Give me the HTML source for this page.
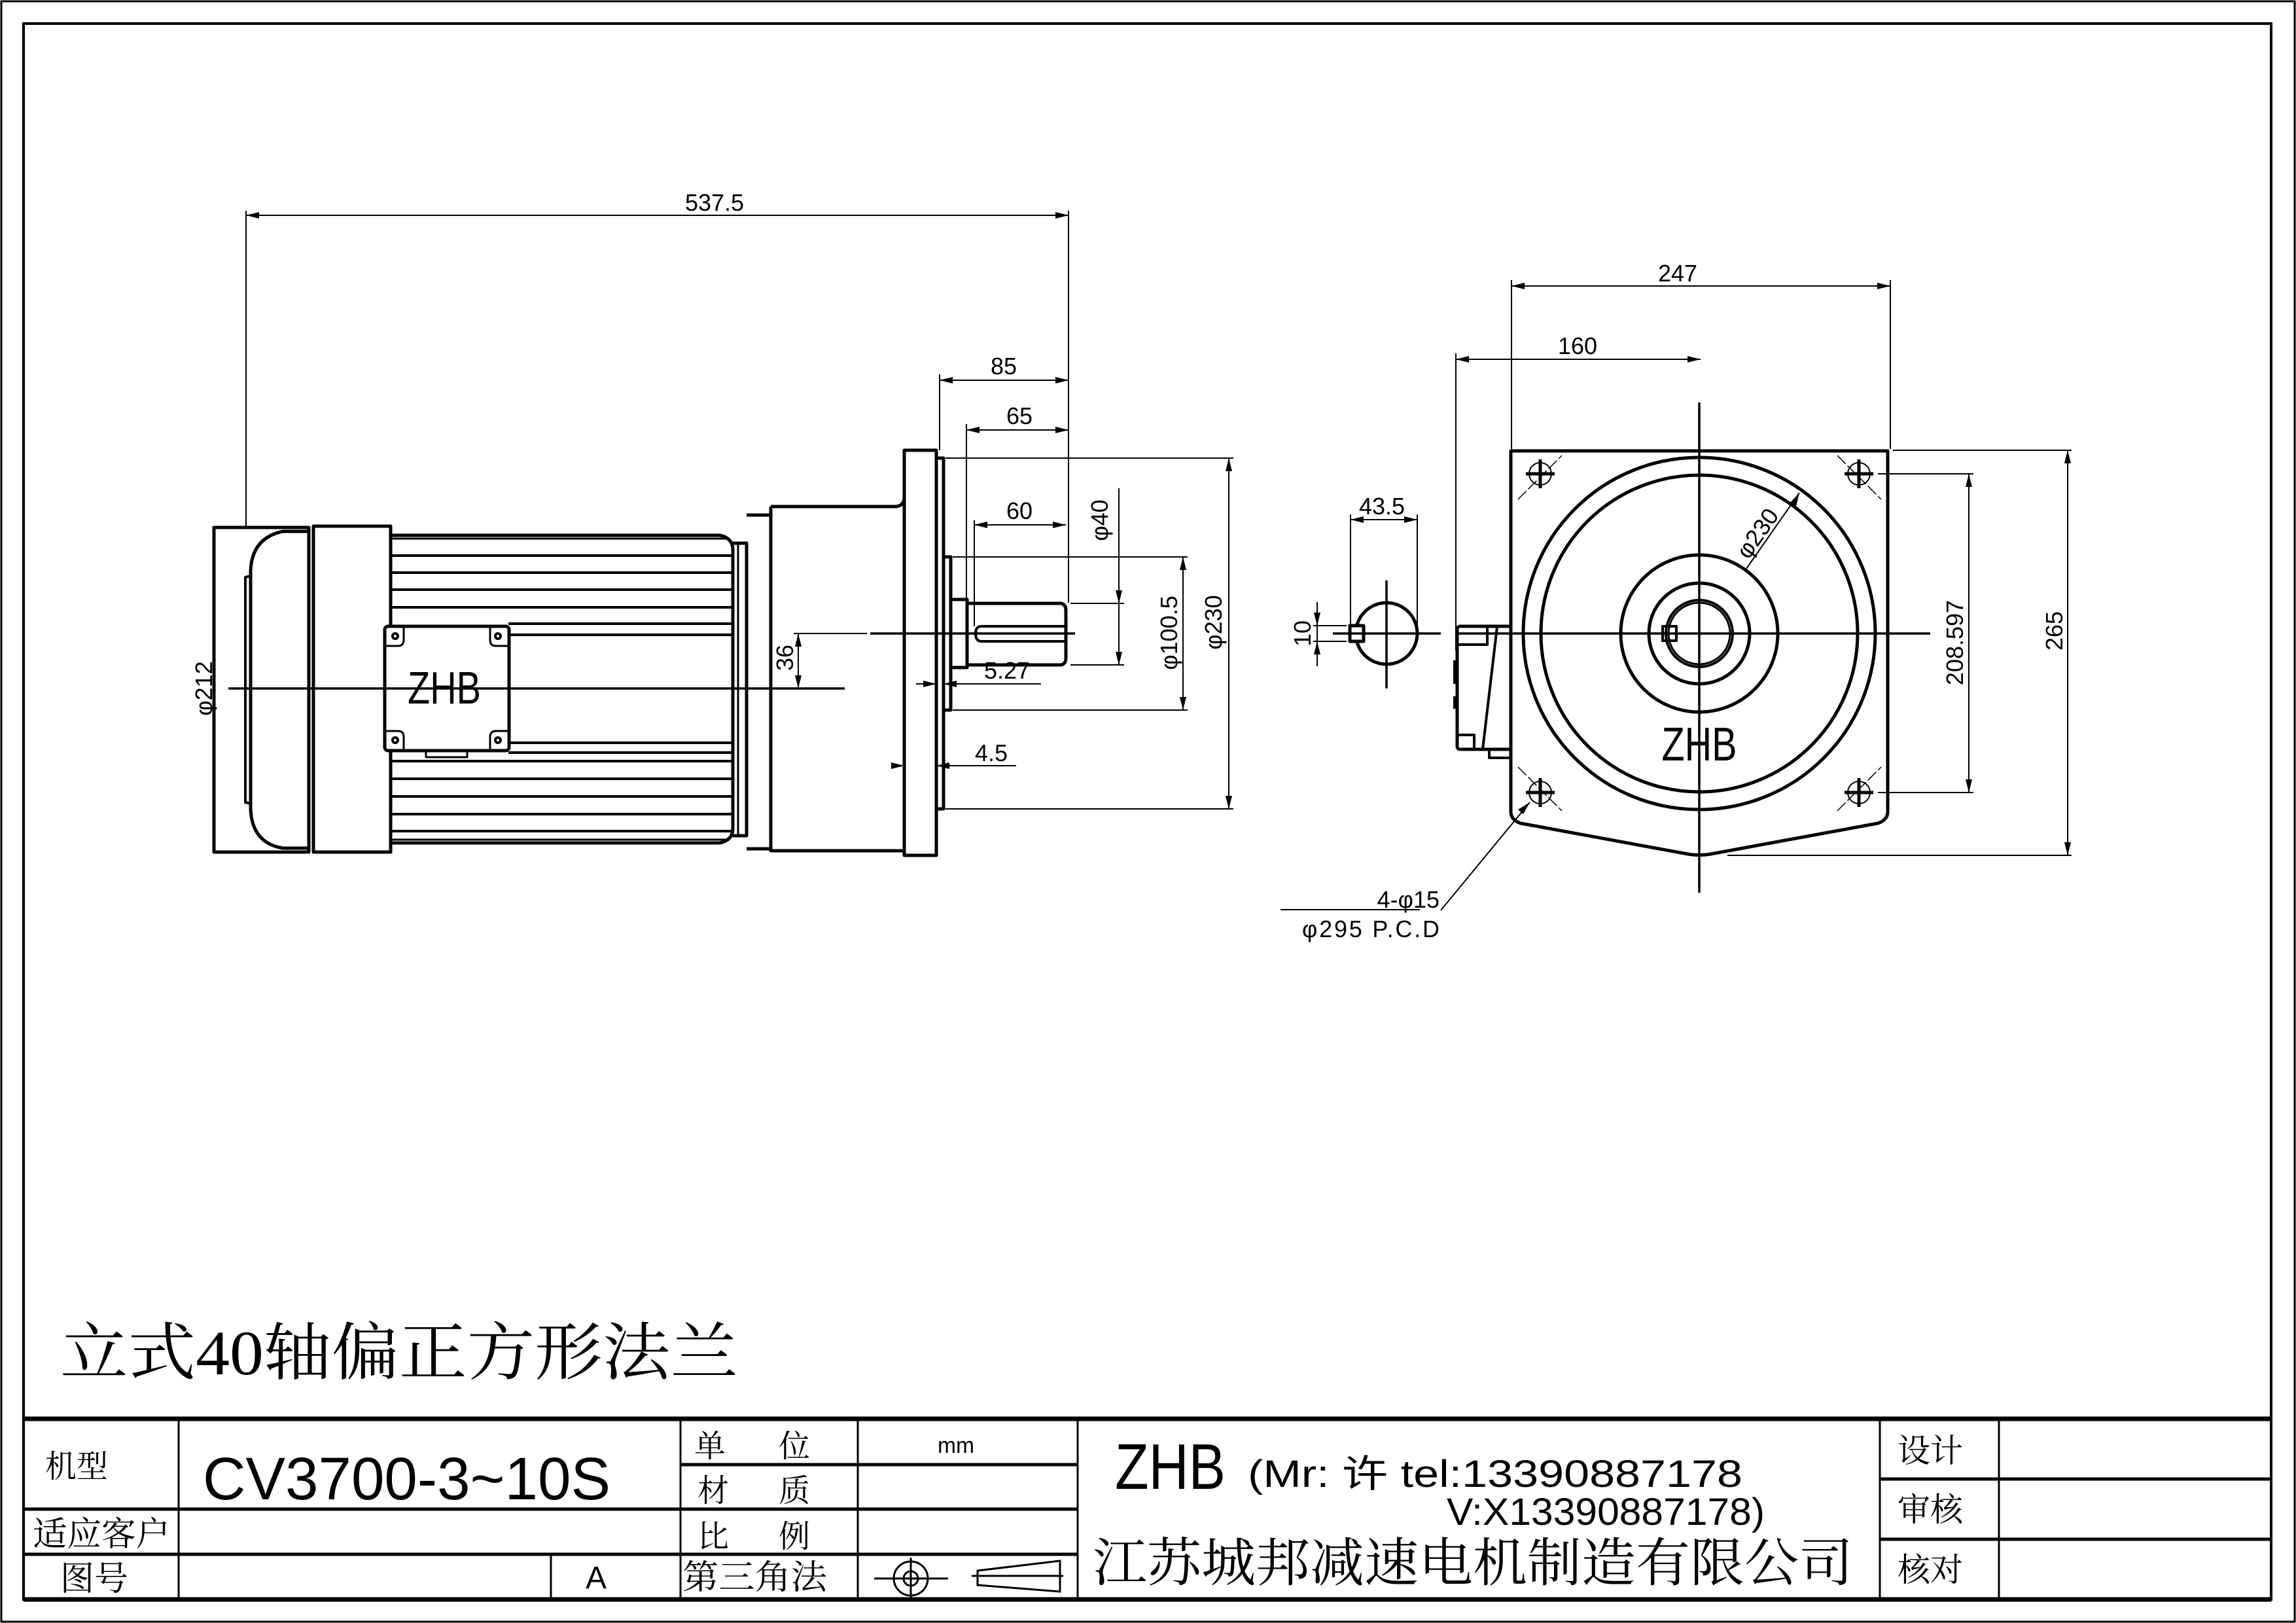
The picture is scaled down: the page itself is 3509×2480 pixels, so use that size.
<!DOCTYPE html>
<html><head><meta charset="utf-8"><style>
html,body{margin:0;padding:0;background:#fff;}
svg{display:block;}
text{font-family:"Liberation Sans",sans-serif;fill:#000;}
.cn{font-family:"Liberation Serif","Noto Serif CJK SC",serif;}
</style></head><body>
<svg width="3509" height="2480" viewBox="0 0 3509 2480" xmlns="http://www.w3.org/2000/svg">
<rect x="0" y="0" width="3509" height="2480" fill="#fff"/>
<!-- page borders -->
<rect x="2" y="2" width="3505" height="2476" fill="none" stroke="#000" stroke-width="3"/>
<rect x="36" y="36" width="3435" height="2408" fill="none" stroke="#000" stroke-width="4"/>

<g fill="none" stroke="#000" stroke-width="5" stroke-linejoin="round">
<!-- ===== LEFT VIEW ===== -->
<!-- fan cover -->
<path d="M327,806 L472,806 L472,1302 L327,1302 Z"/>
<path d="M472,812 L432,812 Q385,822 383,872 L383,1236 Q385,1288 432,1296 L472,1296"/>
<path d="M383,880 L375,882 L375,1226 L383,1228" stroke-width="4"/>
<path d="M479,804 L597,804 L597,1302 L479,1302 Z"/>
<!-- fin body -->
<path d="M597,818 L1100,818 Q1120,822 1120,840 L1120,1266 Q1120,1284 1100,1288 L597,1288"/>
<line x1="597" y1="823" x2="1110" y2="823" stroke-width="3"/>
<line x1="597" y1="1283" x2="1110" y2="1283" stroke-width="3"/>
<g stroke-width="4">
<line x1="597" y1="849" x2="1119" y2="849"/><line x1="597" y1="875" x2="1119" y2="875"/>
<line x1="597" y1="901" x2="1119" y2="901"/><line x1="597" y1="928" x2="1119" y2="928"/>
<line x1="777" y1="953" x2="1119" y2="953"/><line x1="777" y1="970" x2="1119" y2="970"/>
<line x1="777" y1="1135" x2="1119" y2="1135"/><line x1="777" y1="1150" x2="1119" y2="1150"/>
<line x1="597" y1="1163" x2="1119" y2="1163"/><line x1="597" y1="1190" x2="1119" y2="1190"/>
<line x1="597" y1="1217" x2="1119" y2="1217"/><line x1="597" y1="1244" x2="1119" y2="1244"/>
<line x1="597" y1="1270" x2="1119" y2="1270"/>
</g>
<!-- terminal box -->
<rect x="588" y="957" width="190" height="190" rx="5" fill="#fff"/>
<path d="M588,987 L608,987 Q617,987 617,978 L617,957 M778,987 L758,987 Q749,987 749,978 L749,957 M588,1117 L608,1117 Q617,1117 617,1126 L617,1147 M778,1117 L758,1117 Q749,1117 749,1126 L749,1147" stroke-width="3"/>
<path d="M651,1147 L651,1157 L714,1157 L714,1147" stroke-width="3"/>
<!-- rings & gearbox -->
<path d="M1120,830 L1141,830 L1141,1277 L1120,1277"/>
<line x1="1128" y1="830" x2="1128" y2="1277" stroke-width="3"/>
<path d="M1141,787 L1178,787 L1178,1297 L1141,1297"/>
<path d="M1178,774 L1370,774 Q1382,772 1382,760 M1178,774 L1178,1300 L1382,1300"/>
<path d="M1382,688 L1431,688 L1431,1307 L1382,1307 Z"/>
<path d="M1431,700 L1442,700 L1442,1236 L1431,1236"/>
<path d="M1442,851 L1453,851 L1453,1085 L1442,1085"/>
<path d="M1453,916 L1478,916 L1478,1020 L1453,1020"/>
<path d="M1478,922 L1622,922 Q1629,924 1629,932 L1629,1006 Q1629,1014 1622,1016 L1478,1016"/>
<path d="M1629,957 L1500,957 Q1491,957 1491,968 Q1491,980 1500,980 L1629,980" stroke-width="4"/>

<!-- ===== RIGHT VIEW ===== -->
<path d="M2309,689 L2885,689 L2885,1240 Q2885,1253 2870,1258 L2620,1304 Q2597,1309 2574,1304 L2324,1258 Q2309,1253 2309,1240 Z"/>
<circle cx="2597" cy="968" r="269"/>
<circle cx="2597" cy="968" r="242"/>
<circle cx="2597" cy="968" r="120"/>
<circle cx="2597" cy="968" r="77"/>
<circle cx="2597" cy="968" r="51" stroke-width="4"/>
<circle cx="2597" cy="968" r="47" stroke-width="3"/>
<rect x="2541" y="957" width="21" height="22" stroke-width="4"/>
<!-- terminal box side -->
<path d="M2310,957 L2232,957 Q2227,957 2227,962 L2227,1140 Q2227,1145 2232,1145 L2310,1145"/>
<path d="M2228,985 L2273,985 L2273,958 M2228,1123 L2253,1123 L2253,1145 M2288,958 L2266,1145 M2276,1145 L2276,1158 L2310,1158" stroke-width="4"/>
<path d="M2224,1009 L2224,1045 M2224,1064 L2224,1083" stroke-width="6"/>
<!-- shaft end view -->
<circle cx="2119" cy="968" r="47"/>
<rect x="2063" y="956" width="21" height="24" fill="#fff"/>
</g>

<!-- holes -->
<g stroke="#000" fill="none">
<g id="h1">
<circle cx="2354" cy="724" r="17" stroke-width="2"/>
<path d="M2332,724 L2376,724 M2354,702 L2354,746" stroke-width="5"/>
</g>
<circle cx="2841" cy="724" r="17" stroke-width="2"/>
<path d="M2819,724 L2863,724 M2841,702 L2841,746" stroke-width="5"/>
<circle cx="2354" cy="1211" r="17" stroke-width="2"/>
<path d="M2332,1211 L2376,1211 M2354,1189 L2354,1233" stroke-width="5"/>
<circle cx="2841" cy="1211" r="17" stroke-width="2"/>
<path d="M2819,1211 L2863,1211 M2841,1189 L2841,1233" stroke-width="5"/>
<path d="M2320,763 L2387,696 M2808,696 L2875,763 M2320,1172 L2387,1239 M2808,1239 L2875,1172" stroke-width="1.5" stroke-dasharray="18 4"/>
</g>

<!-- screws on terminal box -->
<g fill="#000">
<circle cx="604" cy="972" r="6"/><circle cx="761" cy="972" r="6"/>
<circle cx="604" cy="1131" r="6"/><circle cx="761" cy="1131" r="6"/>
</g>
<g fill="#fff"><circle cx="604" cy="972" r="2"/><circle cx="761" cy="972" r="2"/><circle cx="604" cy="1131" r="2"/><circle cx="761" cy="1131" r="2"/></g>

<!-- centerlines -->
<g stroke="#000" stroke-width="3.5" fill="none">
<line x1="349" y1="1052" x2="1291" y2="1052"/>
<line x1="1330" y1="968" x2="1643" y2="968"/>
<line x1="2037" y1="968" x2="2202" y2="968"/>
<line x1="2119" y1="887" x2="2119" y2="1052"/>
<line x1="2227" y1="968" x2="2950" y2="968"/>
<line x1="2597" y1="615" x2="2597" y2="1364"/>
</g>

<!-- dimension lines -->
<g stroke="#000" stroke-width="2" fill="none">
<!-- 537.5 -->
<line x1="376" y1="322" x2="376" y2="806"/><line x1="1633" y1="322" x2="1633" y2="921"/>
<line x1="376" y1="329" x2="1633" y2="329"/>
<!-- 85 -->
<line x1="1436" y1="572" x2="1436" y2="688"/><line x1="1436" y1="581" x2="1633" y2="581"/>
<!-- 65 -->
<line x1="1477" y1="648" x2="1477" y2="916"/><line x1="1477" y1="657" x2="1633" y2="657"/>
<!-- 60 -->
<line x1="1489" y1="795" x2="1489" y2="957"/><line x1="1489" y1="802" x2="1629" y2="802"/>
<!-- phi40 -->
<line x1="1636" y1="922" x2="1718" y2="922"/><line x1="1636" y1="1016" x2="1718" y2="1016"/>
<line x1="1710" y1="746" x2="1710" y2="1016"/>
<!-- phi100.5 -->
<line x1="1456" y1="851" x2="1815" y2="851"/><line x1="1456" y1="1085" x2="1815" y2="1085"/>
<line x1="1808" y1="851" x2="1808" y2="1085"/>
<!-- phi230 -->
<line x1="1445" y1="700" x2="1885" y2="700"/><line x1="1445" y1="1236" x2="1885" y2="1236"/>
<line x1="1878" y1="700" x2="1878" y2="1236"/>
<!-- 36 -->
<line x1="1213" y1="968" x2="1325" y2="968"/><line x1="1220" y1="968" x2="1220" y2="1052"/>
<!-- 5.27 -->
<line x1="1400" y1="1045" x2="1431" y2="1045"/><line x1="1442" y1="1045" x2="1591" y2="1045"/>
<!-- 4.5 -->
<line x1="1362" y1="1170" x2="1382" y2="1170"/><line x1="1431" y1="1170" x2="1553" y2="1170"/>
<!-- 43.5 -->
<line x1="2064" y1="786" x2="2064" y2="956"/><line x1="2166" y1="786" x2="2166" y2="968"/>
<line x1="2064" y1="794" x2="2166" y2="794"/>
<!-- 10 -->
<line x1="2007" y1="956" x2="2058" y2="956"/><line x1="2007" y1="980" x2="2058" y2="980"/>
<line x1="2013" y1="920" x2="2013" y2="1018"/>
<!-- 247 -->
<line x1="2310" y1="428" x2="2310" y2="686"/><line x1="2889" y1="428" x2="2889" y2="686"/>
<line x1="2310" y1="437" x2="2889" y2="437"/>
<!-- 160 -->
<line x1="2225" y1="540" x2="2225" y2="994"/><line x1="2225" y1="549" x2="2599" y2="549"/>
<!-- 208.597 -->
<line x1="2870" y1="724" x2="3016" y2="724"/><line x1="2870" y1="1211" x2="3016" y2="1211"/>
<line x1="3009" y1="724" x2="3009" y2="1211"/>
<!-- 265 -->
<line x1="2893" y1="688" x2="3166" y2="688"/><line x1="2640" y1="1307" x2="3166" y2="1307"/>
<line x1="3160" y1="688" x2="3160" y2="1307"/>
<!-- phi230 leader -->
<line x1="2669" y1="869" x2="2750" y2="753"/>
<!-- 4-phi15 leader -->
<line x1="2338" y1="1226" x2="2202" y2="1391"/>
<line x1="1957" y1="1390" x2="2170" y2="1390"/>
</g>

<!-- arrowheads -->
<g fill="#000">
<polygon points="376,329 396,324 396,334"/><polygon points="1633,329 1613,324 1613,334"/>
<polygon points="1436,581 1456,576 1456,586"/><polygon points="1633,581 1613,576 1613,586"/>
<polygon points="1477,657 1497,652 1497,662"/><polygon points="1633,657 1613,652 1613,662"/>
<polygon points="1489,802 1509,797 1509,807"/><polygon points="1629,802 1609,797 1609,807"/>
<polygon points="1710,922 1705,902 1715,902"/><polygon points="1710,1016 1705,996 1715,996"/>
<polygon points="1808,851 1803,871 1813,871"/><polygon points="1808,1085 1803,1065 1813,1065"/>
<polygon points="1878,700 1873,720 1883,720"/><polygon points="1878,1236 1873,1216 1883,1216"/>
<polygon points="1220,968 1215,988 1225,988"/><polygon points="1220,1052 1215,1032 1225,1032"/>
<polygon points="1431,1045 1411,1040 1411,1050"/><polygon points="1442,1045 1462,1040 1462,1050"/>
<polygon points="1382,1170 1362,1165 1362,1175"/><polygon points="1431,1170 1451,1165 1451,1175"/>
<polygon points="2064,794 2084,789 2084,799"/><polygon points="2166,794 2146,789 2146,799"/>
<polygon points="2013,956 2008,936 2018,936"/><polygon points="2013,980 2008,1000 2018,1000"/>
<polygon points="2310,437 2330,432 2330,442"/><polygon points="2889,437 2869,432 2869,442"/>
<polygon points="2225,549 2245,544 2245,554"/><polygon points="2599,549 2579,544 2579,554"/>
<polygon points="3009,724 3004,744 3014,744"/><polygon points="3009,1211 3004,1191 3014,1191"/>
<polygon points="3160,688 3155,708 3165,708"/><polygon points="3160,1307 3155,1287 3165,1287"/>
<polygon points="2750,753 2736,768 2745,774"/>
<polygon points="2338,1226 2320,1237 2328,1244"/>
</g>

<!-- dimension text -->
<g font-size="36">
<text x="1092" y="322" text-anchor="middle">537.5</text>
<text x="1534" y="572" text-anchor="middle">85</text>
<text x="1558" y="648" text-anchor="middle">65</text>
<text x="1558" y="793" text-anchor="middle">60</text>
<text x="1539" y="1037" text-anchor="middle">5.27</text>
<text x="1515" y="1163" text-anchor="middle">4.5</text>
<text x="2112" y="786" text-anchor="middle">43.5</text>
<text x="2564" y="430" text-anchor="middle">247</text>
<text x="2411" y="541" text-anchor="middle">160</text>
<text transform="translate(1693,795) rotate(-90)" text-anchor="middle">φ40</text>
<text transform="translate(1799,967) rotate(-90)" text-anchor="middle">φ100.5</text>
<text transform="translate(1867,951) rotate(-90)" text-anchor="middle">φ230</text>
<text transform="translate(1212,1005) rotate(-90)" text-anchor="middle">36</text>
<text transform="translate(324,1052) rotate(-90)" text-anchor="middle">φ212</text>
<text transform="translate(2003,968) rotate(-90)" text-anchor="middle">10</text>
<text transform="translate(3000,982) rotate(-90)" text-anchor="middle">208.597</text>
<text transform="translate(3152,964) rotate(-90)" text-anchor="middle">265</text>
<text transform="translate(2696,822) rotate(-55)" text-anchor="middle">φ230</text>
<text x="2200" y="1387" text-anchor="end">4-φ15</text>
<text x="2200" y="1432" text-anchor="end" textLength="210" lengthAdjust="spacing">φ295 P.C.D</text>
</g>
<text x="623" y="1075" font-size="70" textLength="112" lengthAdjust="spacingAndGlyphs">ZHB</text>
<text x="2597" y="1162" font-size="72" text-anchor="middle" textLength="115" lengthAdjust="spacingAndGlyphs">ZHB</text>

<!-- drawing title -->
<text class="cn" x="92" y="2100" font-size="96" textLength="1036" lengthAdjust="spacingAndGlyphs">立式40轴偏正方形法兰</text>

<!-- title block -->
<g stroke="#000" fill="none">
<line x1="36" y1="2168" x2="3471" y2="2168" stroke-width="7"/>
<line x1="36" y1="2444" x2="3471" y2="2444" stroke-width="7"/>
<line x1="36" y1="2306" x2="1647" y2="2306" stroke-width="5"/>
<line x1="36" y1="2375" x2="1647" y2="2375" stroke-width="5"/>
<line x1="1040" y1="2238" x2="1647" y2="2238" stroke-width="5"/>
<line x1="2873" y1="2260" x2="3471" y2="2260" stroke-width="5"/>
<line x1="2873" y1="2352" x2="3471" y2="2352" stroke-width="5"/>
<g stroke-width="3">
<line x1="273" y1="2168" x2="273" y2="2444"/>
<line x1="842" y1="2375" x2="842" y2="2444"/>
<line x1="1040" y1="2168" x2="1040" y2="2444"/>
<line x1="1311" y1="2168" x2="1311" y2="2444"/>
<line x1="1647" y1="2168" x2="1647" y2="2444"/>
<line x1="2873" y1="2168" x2="2873" y2="2444"/>
<line x1="3055" y1="2168" x2="3055" y2="2444"/>
</g>
<!-- third angle symbol -->
<circle cx="1392" cy="2412" r="26" stroke-width="3"/>
<circle cx="1392" cy="2412" r="11" stroke-width="3"/>
<path d="M1336,2412 L1449,2412 M1392,2380 L1392,2444" stroke-width="3"/>
<path d="M1494,2400 L1620,2385 L1620,2432 L1494,2422 Z M1485,2408 L1625,2408" stroke-width="3"/>
</g>
<g class="cn">
<text class="cn" x="69" y="2257" font-size="48">机型</text>
<text class="cn" x="50" y="2362" font-size="52" textLength="210" lengthAdjust="spacingAndGlyphs">适应客户</text>
<text class="cn" x="92" y="2430" font-size="52">图号</text>
<text class="cn" x="1061" y="2226" font-size="48">单</text><text class="cn" x="1190" y="2226" font-size="48">位</text>
<text class="cn" x="1066" y="2294" font-size="48">材</text><text class="cn" x="1190" y="2294" font-size="48">质</text>
<text class="cn" x="1066" y="2364" font-size="48">比</text><text class="cn" x="1190" y="2364" font-size="48">例</text>
<text class="cn" x="1043" y="2428" font-size="52" textLength="221" lengthAdjust="spacingAndGlyphs">第三角法</text>
<text class="cn" x="2900" y="2234" font-size="50">设计</text>
<text class="cn" x="2900" y="2324" font-size="50">审核</text>
<text class="cn" x="2900" y="2416" font-size="50">核对</text>
<text class="cn" x="1670" y="2416" font-size="80" textLength="1162" lengthAdjust="spacingAndGlyphs">江苏城邦减速电机制造有限公司</text>
</g>
<text x="310" y="2291" font-size="92" textLength="623" lengthAdjust="spacingAndGlyphs">CV3700-3~10S</text>
<text x="895" y="2427" font-size="48">A</text>
<text x="1433" y="2220" font-size="34" textLength="56" lengthAdjust="spacingAndGlyphs">mm</text>
<text x="1704" y="2275" font-size="98" textLength="169" lengthAdjust="spacingAndGlyphs">ZHB</text>
<text x="1907" y="2272" font-size="58" textLength="756" lengthAdjust="spacingAndGlyphs" style="font-family:'Liberation Sans','Noto Sans CJK SC',sans-serif">(Mr: 许 tel:13390887178</text>
<text x="2211" y="2330" font-size="58" textLength="486" lengthAdjust="spacingAndGlyphs">V:X13390887178)</text>
</svg>
</body></html>
